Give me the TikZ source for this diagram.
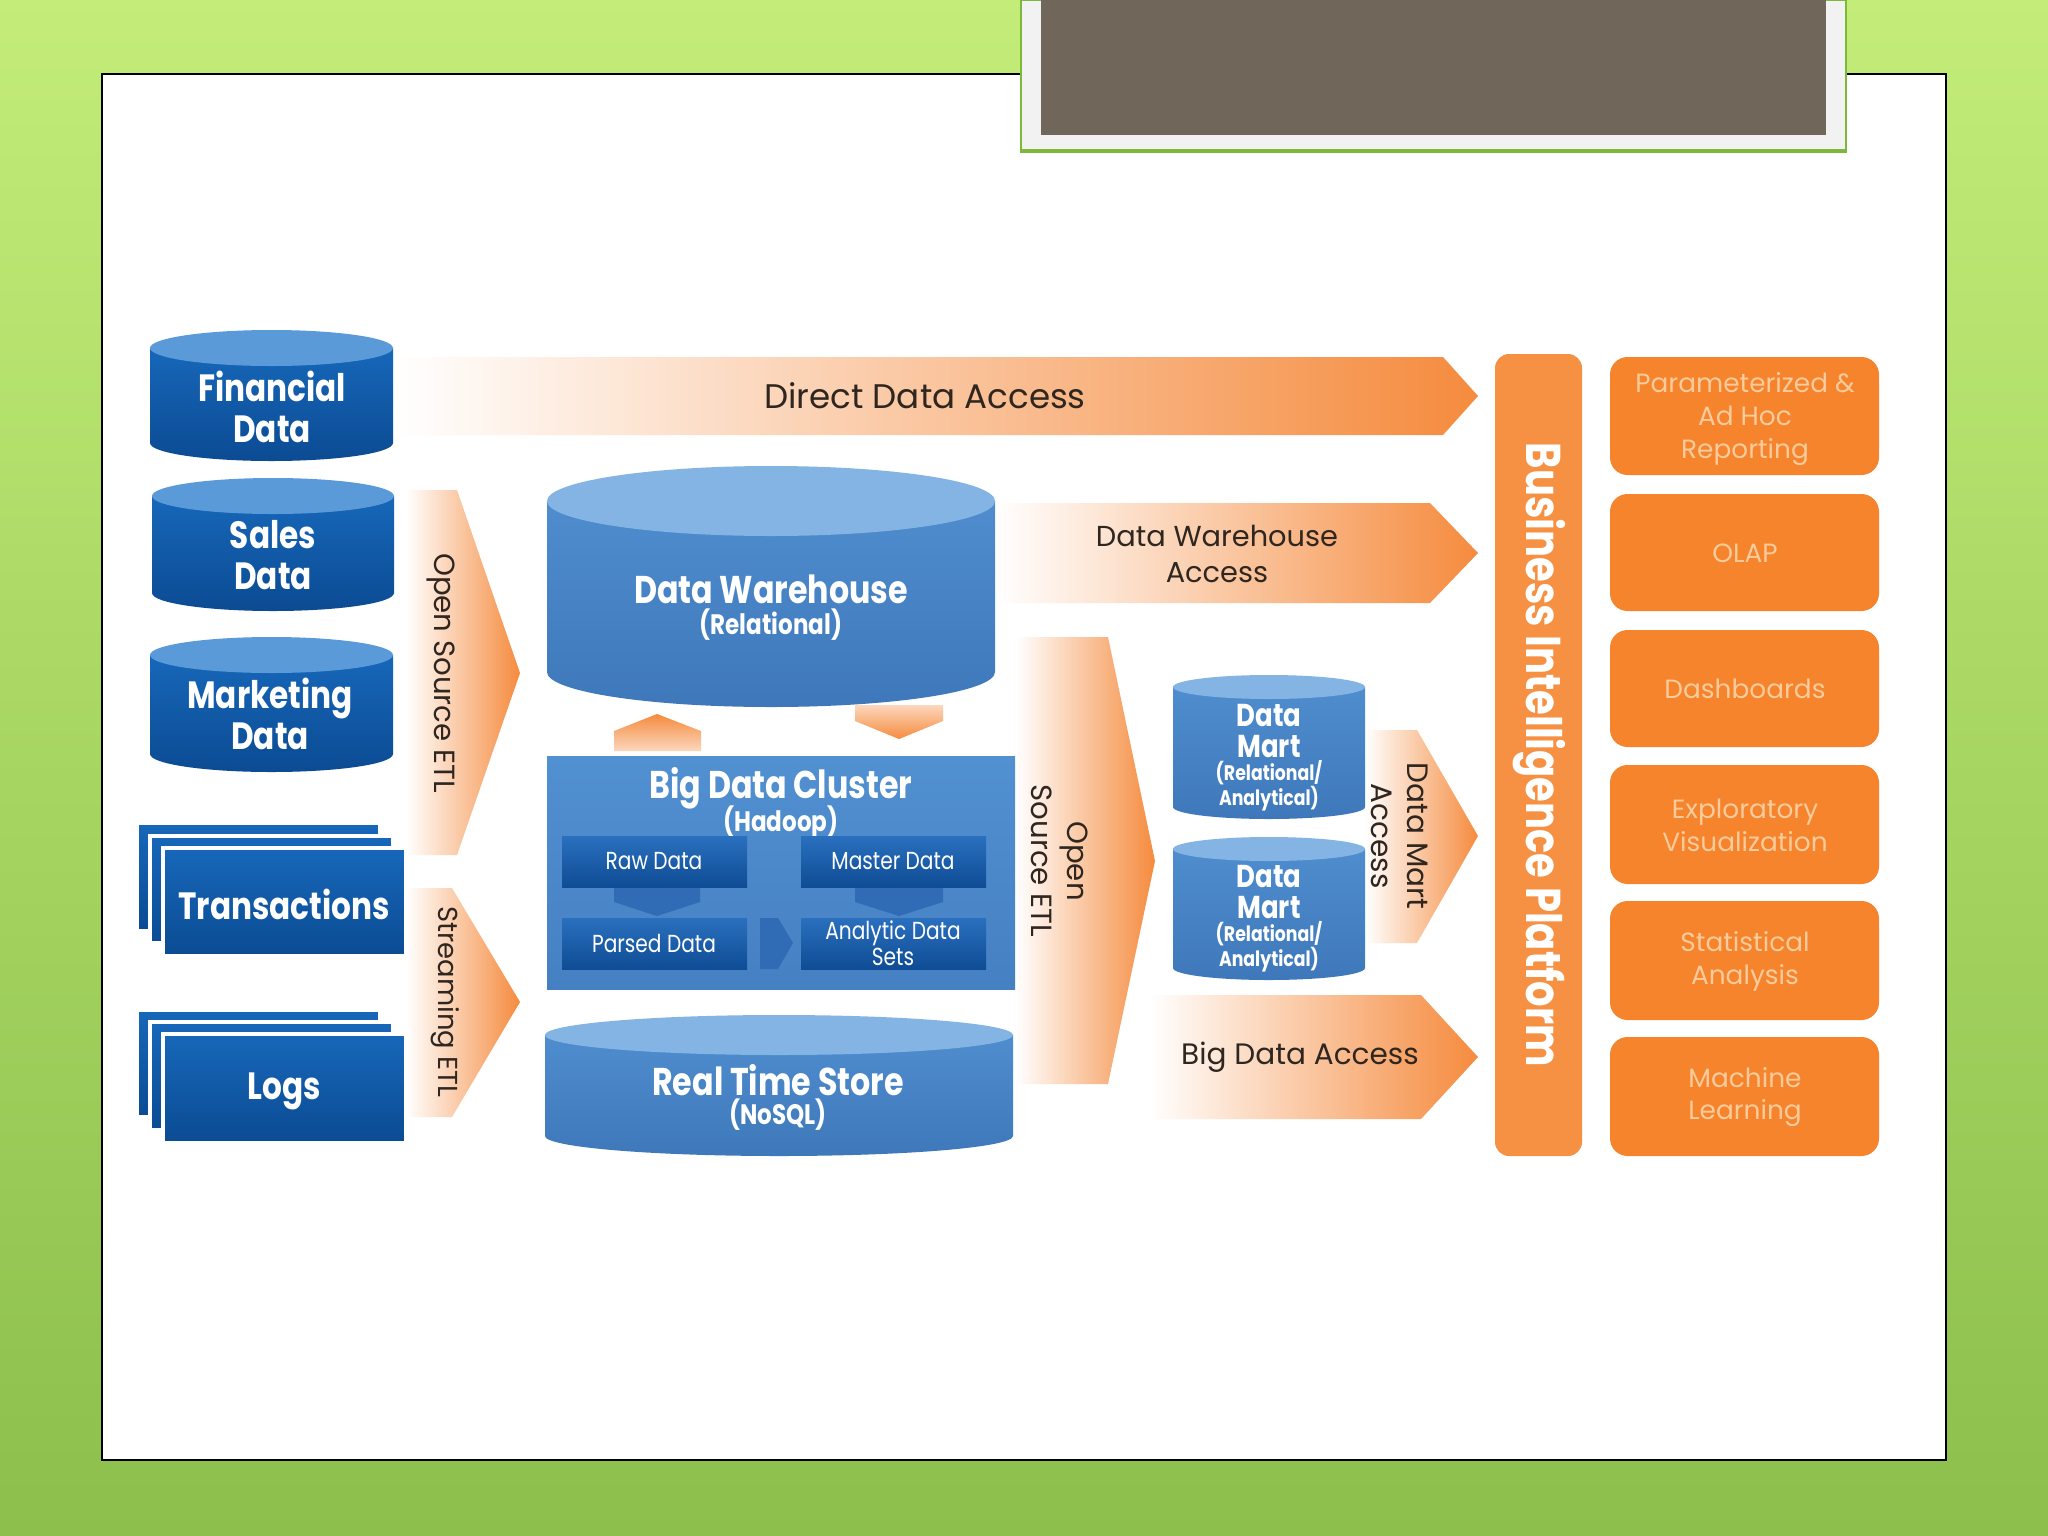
\documentclass[tikz,border=0pt]{standalone}
\usepackage{fontspec}
\setmainfont{Poppins}
\newfontfamily\condfont{Poppins}[FakeStretch=0.82]
\definecolor{bgtop}{HTML}{C3EC78}
\definecolor{bgbot}{HTML}{8CBF4C}
\definecolor{framegreen}{HTML}{7DB83A}
\definecolor{framefill}{HTML}{F2F2F2}
\definecolor{graybox}{HTML}{71665A}
\definecolor{orA}{HTML}{F58B3E}
\definecolor{orMid}{HTML}{F9BC90}
\definecolor{biorange}{HTML}{F69144}
\definecolor{boxorange}{HTML}{F5842C}
\definecolor{boxtext}{HTML}{FCCB9C}
\definecolor{darktext}{HTML}{2F2620}
\definecolor{srcTop}{HTML}{5A9AD8}
\definecolor{srcBodyT}{HTML}{1767B9}
\definecolor{srcBodyB}{HTML}{0B4B93}
\definecolor{dwTop}{HTML}{84B4E3}
\definecolor{dwBodyT}{HTML}{4F8DCE}
\definecolor{dwBodyB}{HTML}{3E78BA}
\definecolor{clusterT}{HTML}{5190D1}
\definecolor{clusterB}{HTML}{4580C2}
\definecolor{innerT}{HTML}{2A70BE}
\definecolor{innerB}{HTML}{0F4C95}
\definecolor{chev}{HTML}{2F6CB5}
\newcommand\cyldraw[7]{%
  \pgfmathsetmacro\cylcx{(#1+#3)/2}%
  \pgfmathsetmacro\cylrx{(#3-#1)/2}%
  \pgfmathsetmacro\cylya{#2+#5}%
  \pgfmathsetmacro\cylyb{#4-#5}%
  \shade[#6] (#1,\cylya) -- (#1,\cylyb) arc[start angle=180,end angle=0,x radius=\cylrx,y radius=#5] -- (#3,\cylya) -- cycle;
  \fill[#7] (\cylcx,\cylya) ellipse[x radius=\cylrx, y radius=#5];
}
\tikzset{
  srcbody/.style={top color=srcBodyT, bottom color=srcBodyB},
  srctop/.style={fill=srcTop},
  dwbody/.style={top color=dwBodyT, bottom color=dwBodyB},
  dwtop/.style={fill=dwTop},
  stackbox/.style={top color=srcBodyT, bottom color=srcBodyB, draw=white, line width=0.9pt},
  hzarrow/.style={left color=white, middle color=orMid, right color=orA},
  bluetitle/.style={font=\condfont\bfseries\fontsize{10.8}{11.6}\selectfont, text=white, align=center, inner sep=0pt},
  bigtitle/.style={font=\condfont\bfseries\fontsize{11}{13}\selectfont, text=white, align=center, inner sep=0pt},
  subtitle/.style={font=\condfont\bfseries\fontsize{8}{9}\selectfont, text=white, align=center, inner sep=0pt},
  innerlbl/.style={font=\condfont\fontsize{7}{7.5}\selectfont, text=white, align=center, inner sep=0pt},
  martlbl/.style={font=\condfont\bfseries\fontsize{9}{9}\selectfont, text=white, align=center, inner sep=0pt},
  martsub/.style={font=\condfont\bfseries\fontsize{6}{7}\selectfont, text=white, align=center, inner sep=0pt},
  arrowlbl/.style={text=darktext, align=center, inner sep=0pt},
  bilbl/.style={font=\condfont\bfseries\fontsize{13.9}{15}\selectfont, text=white, inner sep=0pt},
  toolbox/.style={fill=boxorange, rounded corners=5pt},
  toollbl/.style={font=\fontsize{7.5}{9.3}\selectfont, text=boxtext, align=center, inner sep=0pt},
}
\begin{document}
\begin{tikzpicture}[x=0.01cm,y=-0.01cm]
\useasboundingbox (0,0) rectangle (2048,1536);
% background
\shade[top color=bgtop, bottom color=bgbot] (0,0) rectangle (2048,1536);
% white panel
\fill[white, draw=black, line width=0.4pt] (102,74) rectangle (1946,1460);
% gray title box
\fill[framefill, draw=framegreen, line width=0.6pt] (1021,0) rectangle (1846,152);
\draw[framegreen, line width=1.2pt] (1021,151) -- (1846,151);
\fill[graybox] (1041,0) rectangle (1826,135);

% horizontal arrows
\shade[hzarrow] (393,357) -- (1443,357) -- (1478,396) -- (1443,435) -- (393,435) -- cycle;
\node[arrowlbl, font=\fontsize{9.7}{11}\selectfont] (dda) at (925,396) {Direct Data Access};
\shade[hzarrow] (995,503) -- (1430,503) -- (1478,553) -- (1430,603) -- (995,603) -- cycle;
\node[arrowlbl, font=\fontsize{8.2}{10.2}\selectfont] (dwa) at (1217,554) {Data Warehouse\\Access};
\shade[hzarrow] (1149,995) -- (1421,995) -- (1478,1057) -- (1421,1119) -- (1149,1119) -- cycle;
\node[arrowlbl, font=\fontsize{8.4}{10}\selectfont] (bda) at (1300,1057) {Big Data Access};

% vertical chevrons
\shade[hzarrow] (406,490) -- (457,490) -- (520,673) -- (457,855) -- (406,855) -- cycle;
\node[arrowlbl, font=\fontsize{8.3}{10}\selectfont, rotate=-90] (etl1) at (441,673) {Open Source ETL};
\shade[hzarrow] (406,888) -- (452,888) -- (520,1002) -- (452,1117) -- (406,1117) -- cycle;
\node[arrowlbl, font=\fontsize{7.8}{10}\selectfont, rotate=-90] (setl) at (445,1002) {Streaming ETL};
\shade[hzarrow] (1016,637) -- (1108,637) -- (1155,861) -- (1108,1084) -- (1016,1084) -- cycle;
\node[arrowlbl, font=\fontsize{8.3}{10.2}\selectfont, rotate=-90] (etl2) at (1060,861) {Open\\Source ETL};
\shade[hzarrow] (1365,730) -- (1417,730) -- (1478,836) -- (1417,943) -- (1365,943) -- cycle;
\node[arrowlbl, font=\fontsize{8.4}{10.2}\selectfont, rotate=-90] (dma) at (1400,836) {Data Mart\\Access};

% source cylinders
\cyldraw{150}{330}{393}{461}{18}{srcbody}{srctop}
\node[bluetitle] (fin) at (272,407) {Financial\\Data};
\cyldraw{152}{478}{394}{611}{18}{srcbody}{srctop}
\node[bluetitle] (sales) at (273,555) {Sales\\Data};
\cyldraw{150}{637}{393}{772}{18}{srcbody}{srctop}
\node[bluetitle] (mkt) at (270,714) {Marketing\\Data};

% stacks
\filldraw[stackbox] (137,823) rectangle (380,931);
\filldraw[stackbox] (150,836) rectangle (393,943);
\filldraw[stackbox] (163,848) rectangle (406,956);
\node[bluetitle] (trans) at (284,904) {Transactions};
\filldraw[stackbox] (137,1010) rectangle (380,1117);
\filldraw[stackbox] (150,1022) rectangle (393,1130);
\filldraw[stackbox] (163,1034) rectangle (406,1143);
\node[bluetitle] (logs) at (284,1091) {Logs};

% data warehouse
\cyldraw{547}{466}{995}{707}{35}{dwbody}{dwtop}
\node[bigtitle] (dw) at (771,589) {Data Warehouse};
\node[subtitle] (dws) at (771,625) {(Relational)};

% small arrows
\shade[top color=orA, bottom color=orMid!60!white] (614,751) -- (614,731) -- (657,714) -- (701,731) -- (701,751) -- cycle;
\shade[top color=orMid!60!white, bottom color=orA] (855,705) -- (943,705) -- (943,721) -- (899,739) -- (855,721) -- cycle;

% cluster
\shade[top color=clusterT, bottom color=clusterB] (547,756) rectangle (1015,989);
\node[bigtitle] (bdc) at (781,788) {Big Data Cluster};
\node[subtitle] (bdcs) at (781,822) {(Hadoop)};
\fill[chev] (614,887) -- (700,887) -- (700,902) -- (657,916) -- (614,902) -- cycle;
\fill[chev] (855,887) -- (943,887) -- (943,902) -- (899,916) -- (855,902) -- cycle;
\fill[chev] (760,918) -- (778,918) -- (793,943) -- (778,969) -- (760,969) -- cycle;
\shade[top color=innerT, bottom color=innerB] (562,836) rectangle (747,887);
\node[innerlbl] (raw) at (654,861) {Raw Data};
\shade[top color=innerT, bottom color=innerB] (801,836) rectangle (986,887);
\node[innerlbl] (master) at (893,861) {Master Data};
\shade[top color=innerT, bottom color=innerB] (562,918) rectangle (747,969);
\node[innerlbl] (parsed) at (654,943) {Parsed Data};
\shade[top color=innerT, bottom color=innerB] (801,918) rectangle (986,969);
\node[innerlbl] (analytic) at (893,943) {Analytic Data\\Sets};

% real time store
\cyldraw{545}{1015}{1013}{1156}{20}{dwbody}{dwtop}
\node[bigtitle] (rts) at (778,1080) {Real Time Store};
\node[subtitle] (rtss) at (778,1115) {(NoSQL)};

% data marts
\cyldraw{1173}{675}{1365}{819}{12}{dwbody}{dwtop}
\node[martlbl] (dm1) at (1269,731) {Data\\Mart};
\node[martsub] (dm1s) at (1269,786) {(Relational/\\Analytical)};
\cyldraw{1173}{837}{1365}{980}{12}{dwbody}{dwtop}
\node[martlbl] (dm2) at (1269,892) {Data\\Mart};
\node[martsub] (dm2s) at (1269,947) {(Relational/\\Analytical)};

% BI platform
\fill[biorange, rounded corners=4pt] (1495,354) rectangle (1582,1156);
\node[bilbl, rotate=-90] (bi) at (1539,755) {Business Intelligence Platform};

% tools
\fill[toolbox] (1610,357) rectangle (1879,475);
\node[toollbl] (t1) at (1745,419) {Parameterized \&\\Ad Hoc\\Reporting};
\fill[toolbox] (1610,494) rectangle (1879,611);
\node[toollbl] (t2) at (1745,553) {OLAP};
\fill[toolbox] (1610,630) rectangle (1879,747);
\node[toollbl] (t3) at (1745,689) {Dashboards};
\fill[toolbox] (1610,765) rectangle (1879,884);
\node[toollbl] (t4) at (1745,825) {Exploratory\\Visualization};
\fill[toolbox] (1610,901) rectangle (1879,1020);
\node[toollbl] (t5) at (1745,961) {Statistical\\Analysis};
\fill[toolbox] (1610,1037) rectangle (1879,1156);
\node[toollbl] (t6) at (1745,1097) {Machine\\Learning};
\end{tikzpicture}
\end{document}
